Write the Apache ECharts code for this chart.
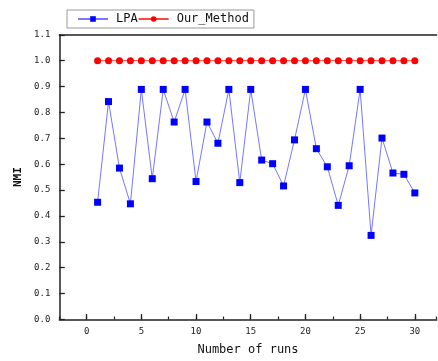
<!DOCTYPE html>
<html>
<head>
<meta charset="utf-8">
<script src="https://cdn.jsdelivr.net/npm/echarts@6/dist/echarts.min.js"></script>
<style>html,body{margin:0;padding:0;background:#fff;}#c{width:438px;height:361px;}</style>
</head>
<body>
<div id="c"></div>
<script>
var runs = [1,2,3,4,5,6,7,8,9,10,11,12,13,14,15,16,17,18,19,20,21,22,23,24,25,26,27,28,29,30];
var lpa = [0.453,0.842,0.585,0.447,0.889,0.544,0.889,0.763,0.889,0.533,0.763,0.681,0.889,0.529,0.889,0.616,0.602,0.516,0.694,0.889,0.660,0.590,0.441,0.594,0.889,0.325,0.701,0.566,0.561,0.489];
var ours = [1,1,1,1,1,1,1,1,1,1,1,1,1,1,1,1,1,1,1,1,1,1,1,1,1,1,1,1,1,1];
var seriesNames = ['LPA','Our_Method'];
var xMajorTicks = [0,5,10,15,20,25,30];

var mono = 'DejaVu Sans Mono';
var chart = echarts.init(document.getElementById('c'), null, {renderer:'canvas'});
function pairs(xs, ys){ return xs.map(function(x,i){return [x, ys[i]];}); }
chart.setOption({
  animation:false,
  backgroundColor:'#fff',
  legend:{
    data:seriesNames,
    left:67, top:10,
    padding:[3,5,3,10],
    itemGap:0,
    itemWidth:30, itemHeight:7,
    borderColor:'#999', borderWidth:1,
    textStyle:{fontFamily:mono, fontSize:12, color:'#111', padding:[0,0,0,3]}
  },
  grid:{left:59.3, top:34.8, right:1.3, bottom:41.5, containLabel:false},
  xAxis:[{
    type:'value', min:-2.5, max:32, interval:2.5,
    position:'bottom',
    name:'Number of runs', nameLocation:'middle', nameGap:24,
    nameTextStyle:{fontFamily:mono, fontSize:12, color:'#111'},
    axisLine:{show:true, onZero:false, lineStyle:{color:'#222', width:1.5}},
    axisTick:{show:true, inside:true, length:3, lineStyle:{color:'#222', width:1.2}},
    axisLabel:{fontFamily:mono, fontSize:9, color:'#222', margin:8, customValues:xMajorTicks},
    splitLine:{show:false}
  },{
    type:'value', min:-2.5, max:32, position:'bottom',
    axisLine:{show:false, onZero:false},
    axisTick:{show:true, inside:true, length:5.5, customValues:xMajorTicks, lineStyle:{color:'#222', width:1.3}},
    axisLabel:{show:false}, splitLine:{show:false}
  },{
    type:'value', min:-2.5, max:32, position:'top',
    axisLine:{show:true, onZero:false, lineStyle:{color:'#222', width:1.5}},
    axisTick:{show:false}, axisLabel:{show:false}, splitLine:{show:false}
  }],
  yAxis:{
    type:'value', min:0, max:1.1, interval:0.1,
    name:'NMI', nameLocation:'middle', nameGap:34,
    nameTextStyle:{fontFamily:mono, fontSize:11, fontWeight:'bold', color:'#111'},
    axisLine:{show:true, onZero:false, lineStyle:{color:'#222', width:1.5}},
    axisTick:{show:true, inside:true, length:5.5, lineStyle:{color:'#222', width:1.3}},
    axisLabel:{fontFamily:mono, fontSize:9, color:'#222', margin:9,
      formatter:function(v){ return v.toFixed(1); }},
    splitLine:{show:false}
  },
  series:[{
    name:'LPA', type:'line', data:pairs(runs,lpa),
    symbol:'rect', symbolSize:7,
    itemStyle:{color:'#0000ff'},
    lineStyle:{color:'#7777ff', width:1},
    z:3
  },{
    name:'Our_Method', type:'line', data:pairs(runs,ours),
    symbol:'circle', symbolSize:7,
    itemStyle:{color:'#ff0000'},
    lineStyle:{color:'#ff4444', width:1},
    z:3
  }]
});
</script>
</body>
</html>
